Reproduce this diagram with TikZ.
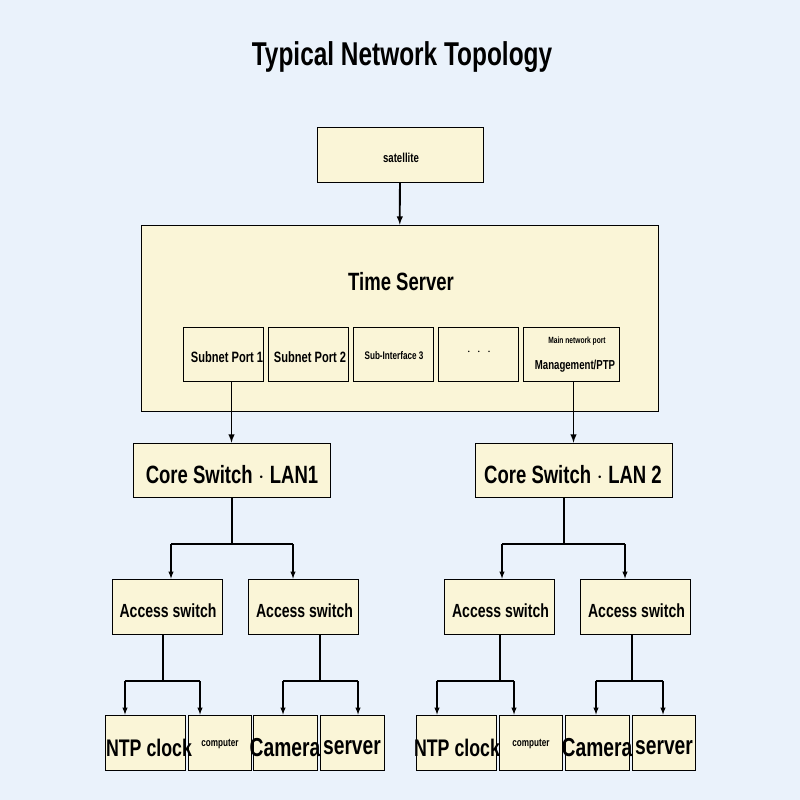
\documentclass[tikz,border=0pt]{standalone}
\usepackage{fontspec}
\setmainfont{Liberation Sans}[FakeStretch=0.74]
\usetikzlibrary{positioning}
\definecolor{bgblue}{HTML}{EAF2FB}
\definecolor{cream}{HTML}{FAF5D7}
\tikzset{
  box/.style={draw=black, fill=cream, line width=0.8pt, inner sep=0pt},
  arr/.style={-latex, line width=1.4pt},
  txt/.style={font=\fontsize{#1}{#1}\selectfont\bfseries}
}
\begin{document}
\begin{tikzpicture}[x=1pt, y=-1pt]
  % background
  \fill[bgblue] (0,0) rectangle (800,800);
  \useasboundingbox (0,0) rectangle (800,800);
  \node[txt=33] (title) at (402,57) {Typical Network Topology};

  % top level
  \node[box, minimum width=166, minimum height=55] (sat) at (400,154.5) {};
  \node[txt=13] at (401,158) {satellite};
  \node[box, minimum width=517, minimum height=186] (ts) at (399.5,318) {};
  \node[txt=25] (tslabel) at (401,282) {Time Server};

  % ports
  \node[box, minimum width=80, minimum height=54] (p1) at (223,354) {};
  \node[box, minimum width=80, minimum height=54] (p2) at (308,354) {};
  \node[box, minimum width=80, minimum height=54] (p3) at (393,354) {};
  \node[box, minimum width=80, minimum height=54] (p4) at (478,354) {};
  \node[box, minimum width=96, minimum height=54] (p5) at (571,354) {};
  \node[txt=15] at (227,357) {Subnet Port 1};
  \node[txt=15] at (310,357) {Subnet Port 2};
  \node[txt=11] at (394,356) {Sub-Interface 3};
  \node[txt=14] at (479,352) {$\cdot\ \cdot\ \cdot$};
  \node[txt=9] (p5a) at (577,341) {Main network port};
  \node[txt=13] (p5b) at (575,366) {Management/PTP};

  % core switches
  \node[box, minimum width=197, minimum height=54] (core1) at (231.5,470) {};
  \node[box, minimum width=197, minimum height=54] (core2) at (573.5,470) {};
  \node[txt=25] at (232,475) {Core Switch $\cdot$ LAN1};
  \node[txt=25] at (573,475) {Core Switch $\cdot$ LAN 2};

  % access switches
  \foreach \n/\x in {1/167, 2/303.5, 3/499.5, 4/635.5}{
    \node[box, minimum width=110, minimum height=55] (acc\n) at (\x,606.5) {};
    \node[txt=19] at (\x+1,611) {Access switch};
  }

  % end devices
  \foreach \n/\x/\w in {1/145/80, 2/219.5/63, 3/285/64, 4/352/64, 5/456/80, 6/530.5/63, 7/597/64, 8/663.5/63}
    \node[box, minimum width=\w, minimum height=55] (dev\n) at (\x,742.5) {};
  \foreach \x/\t/\s/\y in {149/NTP clock/24/748, 220/computer/11/744, 285/Camera/26/748, 352/server/26/748,
                           457/NTP clock/24/748, 531/computer/11/744, 597/Camera/26/748, 664/server/26/748}
    \node[txt=\s] at (\x,\y) {\t};

  % connectors
  \draw[arr, line width=1.8pt] (sat) -- (ts);
  \draw[arr, line width=1.8pt] (p1.south -| core1) -- (core1.north);
  \draw[arr, line width=1.8pt] (p5.south -| core2) -- (core2.north);
  \foreach \c/\a/\b/\xa/\xb/\xc in {core1/acc1/acc2/232/171/293, core2/acc3/acc4/564/502/625}{
    \draw[line width=1.4pt] (\c.south -| \xa,0) -- (\xa,544);
    \draw[line width=1.4pt] (\xb,544) -- (\xc,544);
    \draw[arr] (\xb,544) -- (\a.north -| \xb,0);
    \draw[arr] (\xc,544) -- (\b.north -| \xc,0);
  }
  \foreach \a/\l/\r/\xa/\xl/\xr in {acc1/dev1/dev2/163/125/200, acc2/dev3/dev4/320/283/358,
                                    acc3/dev5/dev6/500/437/514, acc4/dev7/dev8/632/596/663}{
    \draw[line width=1.4pt] (\a.south -| \xa,0) -- (\xa,681);
    \draw[line width=1.4pt] (\xl,681) -- (\xr,681);
    \draw[arr] (\xl,681) -- (\l.north -| \xl,0);
    \draw[arr] (\xr,681) -- (\r.north -| \xr,0);
  }
\end{tikzpicture}
\end{document}
